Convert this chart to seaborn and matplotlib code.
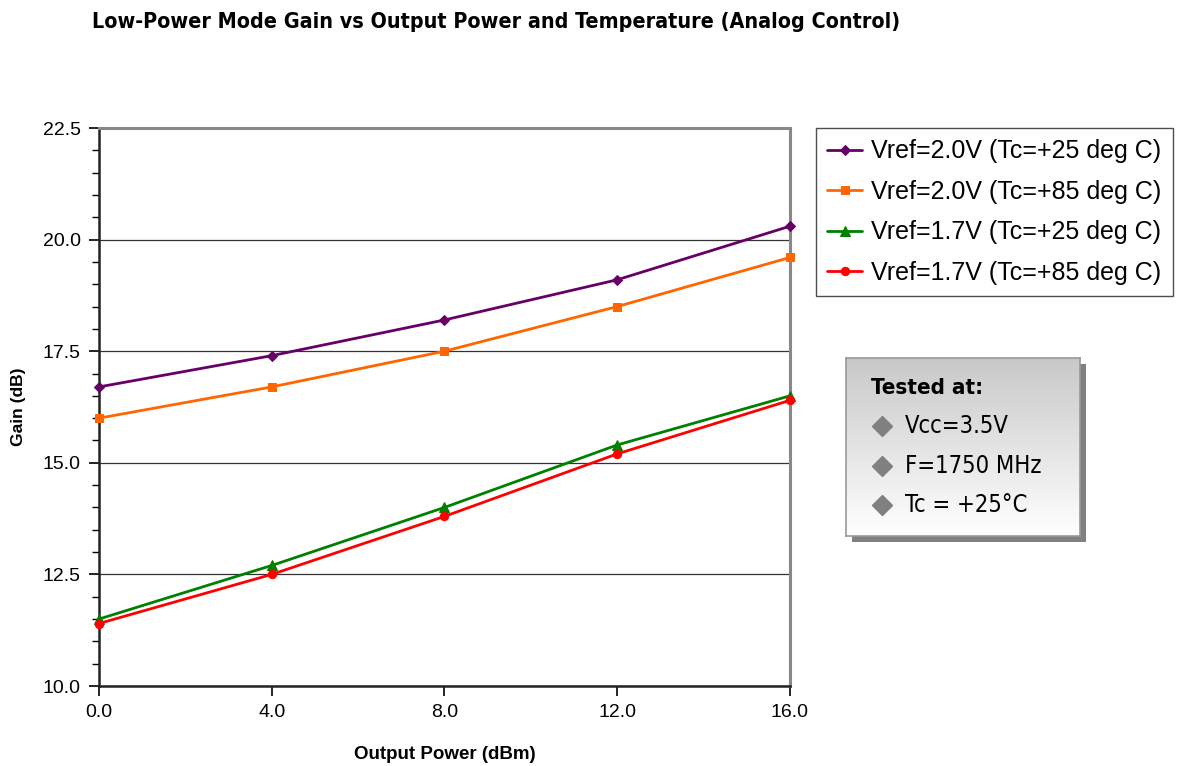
import numpy as np
import pandas as pd
import matplotlib
matplotlib.use("Agg")
import matplotlib.pyplot as plt
from matplotlib.patches import Rectangle
import seaborn as sns

# ---- data ----
output_power = [0.0, 4.0, 8.0, 12.0, 16.0]
series_names = [
    "Vref=2.0V (Tc=+25 deg C)",
    "Vref=2.0V (Tc=+85 deg C)",
    "Vref=1.7V (Tc=+25 deg C)",
    "Vref=1.7V (Tc=+85 deg C)",
]
gain_20_25 = [16.7, 17.4, 18.2, 19.1, 20.3]
gain_20_85 = [16.0, 16.7, 17.5, 18.5, 19.6]
gain_17_25 = [11.5, 12.7, 14.0, 15.4, 16.5]
gain_17_85 = [11.4, 12.5, 13.8, 15.2, 16.4]
x_ticks = [0.0, 4.0, 8.0, 12.0, 16.0]
y_ticks = [10.0, 12.5, 15.0, 17.5, 20.0, 22.5]
tested_lines = ["Vcc=3.5V", "F=1750 MHz", "Tc = +25\u00b0C"]

colors = ["#660066", "#ff6600", "#008000", "#ff0000"]
markers = ["D", "s", "^", "o"]
msizes = [5, 6, 7, 6]

sns.set_theme(style="white")
plt.rcParams['font.family'] = ['Liberation Sans', 'DejaVu Sans']
plt.rcParams['text.color'] = 'black'
plt.rcParams['axes.labelcolor'] = 'black'
plt.rcParams['xtick.color'] = 'black'
plt.rcParams['ytick.color'] = 'black'

fig = plt.figure(figsize=(11.82, 7.66), dpi=100)
ax = fig.add_axes([99/1182, 1-686/766, (790-99)/1182, (686-128)/766])

gains = [gain_20_25, gain_20_85, gain_17_25, gain_17_85]
for name, g, c, m, ms in zip(series_names, gains, colors, markers, msizes):
    df = pd.DataFrame({"x": output_power, "y": g})
    sns.lineplot(data=df, x="x", y="y", ax=ax, color=c, marker=m,
                 markersize=ms, markeredgecolor=c, linewidth=2.0, label=name,
                 clip_on=False, zorder=3)

ax.set_xlim(0, 16)
ax.set_ylim(10, 22.5)
ax.set_xticks(x_ticks)
ax.set_xticklabels([f"{v:.1f}" for v in x_ticks])
ax.set_yticks(y_ticks)
ax.set_yticklabels([f"{v:.1f}" for v in y_ticks])
ax.set_yticks(np.arange(10, 22.51, 0.5), minor=True)
ax.yaxis.grid(True, which="major", color="#333333", linewidth=0.9)
ax.xaxis.grid(False)
ax.tick_params(axis="both", which="major", labelsize=14, length=7, width=1.2,
               color="black", direction="out", left=True, bottom=True, pad=6)
ax.tick_params(axis="y", which="minor", length=5, width=1.0, color="black",
               direction="out", left=True)
for s in ["left", "bottom"]:
    ax.spines[s].set_color("#222222")
    ax.spines[s].set_linewidth(1.8)
for s in ["top", "right"]:
    ax.spines[s].set_color("#888888")
    ax.spines[s].set_linewidth(2.2)

ax.set_xlabel("Output Power (dBm)", fontsize=13.5, fontweight="bold", labelpad=18)
ax.set_ylabel("Gain (dB)", fontsize=12.5, fontweight="bold", labelpad=12)

leg = ax.legend(loc="upper left", bbox_to_anchor=(816/1182, 1-128/766),
                bbox_transform=fig.transFigure, fontsize=18, frameon=True,
                fancybox=False, edgecolor="#222222", handlelength=1.4,
                labelspacing=0.66, borderpad=0.45, handletextpad=0.35,
                borderaxespad=0)
leg.get_frame().set_linewidth(1.0)

fig.text(92/1182, 1-22/766, "Low-Power Mode Gain vs Output Power and Temperature (Analog Control)",
         fontsize=15.4, fontweight="bold", ha="left", va="center",
         family=['DejaVu Sans'], fontstretch="condensed")

# Tested-at box with shadow and gradient
bx0, by0, bx1, by1 = 846, 358, 1080, 536
fig.patches.append(Rectangle(((bx0+6)/1182, 1-(by1+6)/766), (bx1-bx0)/1182, (by1-by0)/766,
                             transform=fig.transFigure, facecolor="#808080",
                             edgecolor="none", zorder=1))
bax = fig.add_axes([bx0/1182, 1-by1/766, (bx1-bx0)/1182, (by1-by0)/766], zorder=2)
grad = np.linspace(0, 1, 256).reshape(-1, 1)
bax.imshow(grad, aspect="auto", cmap=matplotlib.colors.LinearSegmentedColormap.from_list(
    "g", ["#c8c8c8", "#ffffff"]), extent=[0, 1, 0, 1], origin="upper")
bax.set_xlim(0, 1)
bax.set_ylim(0, 1)
bax.set_xticks([])
bax.set_yticks([])
for s in bax.spines.values():
    s.set_color("#999999")
    s.set_linewidth(1.2)
bax.text(0.105, 0.83, "Tested at:", fontsize=16, fontweight="bold",
         family=['DejaVu Sans'], fontstretch="condensed", va="center", ha="left")
item_y = [0.618, 0.393, 0.174]
for yy, t in zip(item_y, tested_lines):
    bax.plot([0.154], [yy], marker="D", color="#808080", markersize=10)
    bax.text(0.252, yy, t, fontsize=17, family=['DejaVu Sans'], fontstretch="condensed",
             va="center", ha="left")

fig.savefig("out.png", dpi=100)
